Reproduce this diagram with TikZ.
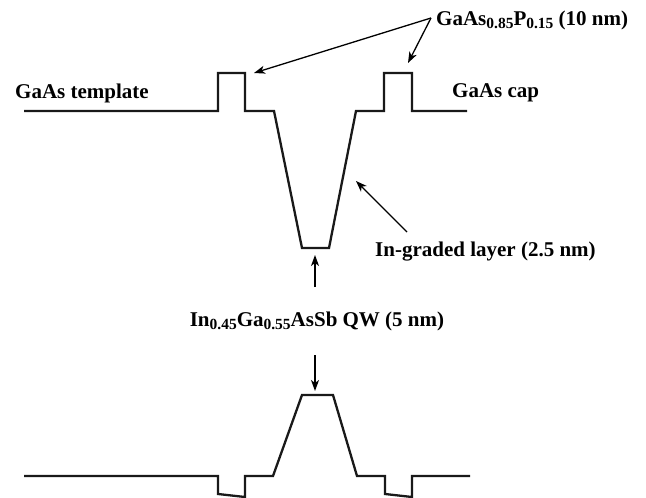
\documentclass[tikz,border=0pt]{standalone}
\usepackage{fontspec}
\setmainfont{Liberation Serif}
\usetikzlibrary{arrows.meta, positioning}
\newcommand{\lowidx}[1]{\raisebox{-0.35ex}{\fontsize{15.5}{16}\selectfont #1}}
\tikzset{
  band/.style={line width=2.3pt, line join=miter, black!90},
  pointer/.style={line width=1.3pt, -{Stealth[length=11pt, width=8pt, inset=3pt]}},
  lbl/.style={font=\fontsize{21}{24}\selectfont\bfseries, inner sep=1pt}
}
\begin{document}
\begin{tikzpicture}[x=1pt, y=-1pt]
    \useasboundingbox (0,0) rectangle (646,498);
    % conduction band (top)
    \draw[band] (24,111) -- (218,111) -- (218,73) -- (245,73) -- (245,111) -- (274,111)
      -- (302,248) -- (329,248) -- (356,111) -- (384,111) -- (384,73) -- (412,73)
      -- (412,111) -- (467,111);
    % valence band (bottom)
    \draw[band] (24,476) -- (218,476) -- (218,494) -- (245,497) -- (245,476) -- (273,476)
      -- (302,395) -- (333,395) -- (357,476) -- (385,476) -- (385,494) -- (412,497)
      -- (412,476) -- (470,476);
    % labels
    \node[lbl, anchor=west] (tmpl) at (14,93) {GaAs template};
    \node[lbl, anchor=west] (cap) at (451,93) {GaAs cap};
    \node[lbl, anchor=west] (gasp) at (435,20) {GaAs\lowidx{0.85}P\lowidx{0.15} (10 nm)};
    \node[lbl, anchor=west] (grad) at (374,252) {In-graded layer (2.5 nm)};
    \node[lbl] (qw) at (317,321) {In\lowidx{0.45}Ga\lowidx{0.55}AsSb QW (5 nm)};
    % arrow ends
    \coordinate (apex) at (431,18);
    \coordinate (barL) at (254,73);
    \coordinate (barR) at (408,63);
    \coordinate (gradtail) at (407,232);
    \coordinate (gradtip) at (356,181);
    \coordinate (qwup) at (315,287);
    \coordinate (wellbot) at (315,255);
    \coordinate (qwdn) at (315,355);
    \coordinate (hhtop) at (315,391);
    \draw[pointer] (apex) -- (barL);
    \draw[pointer] (apex) -- (barR);
    \draw[pointer] (gradtail) -- (gradtip);
    \draw[pointer] (qwup) -- (wellbot);
    \draw[pointer] (qwdn) -- (hhtop);
  \end{tikzpicture}
\end{document}
